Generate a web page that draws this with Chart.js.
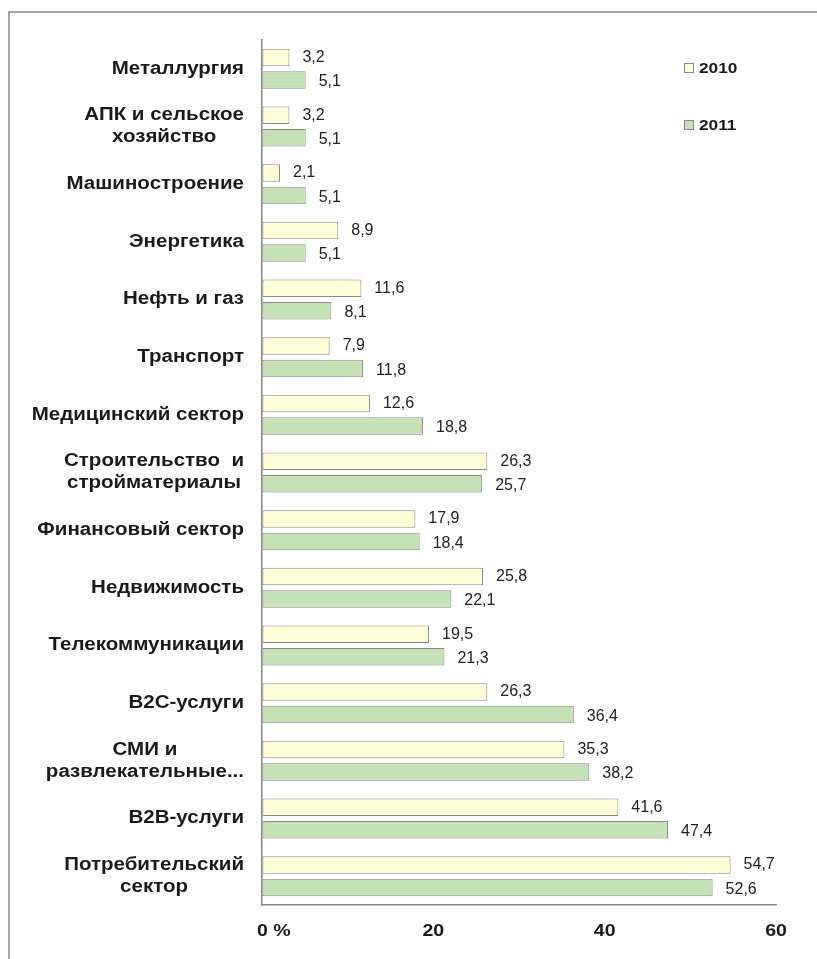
<!DOCTYPE html>
<html>
<head>
<meta charset="utf-8">
<script src="https://cdn.jsdelivr.net/npm/chart.js@4"></script>
<style>
html,body{margin:0;padding:0;background:#fff;}
#wrap{position:relative;width:817px;height:959px;}
canvas{display:block;}
</style>
</head>
<body>
<div id="wrap"><canvas id="c" width="817" height="959"></canvas></div>
<script>
const categories = [
  ["Металлургия"],
  ["АПК и сельское","хозяйство"],
  ["Машиностроение"],
  ["Энергетика"],
  ["Нефть и газ"],
  ["Транспорт"],
  ["Медицинский сектор"],
  ["Строительство  и","стройматериалы"],
  ["Финансовый сектор"],
  ["Недвижимость"],
  ["Телекоммуникации"],
  ["B2C-услуги"],
  ["СМИ и","развлекательные..."],
  ["B2B-услуги"],
  ["Потребительский","сектор"]
];
const values2010 = [3.2,3.2,2.1,8.9,11.6,7.9,12.6,26.3,17.9,25.8,19.5,26.3,35.3,41.6,54.7];
const values2011 = [5.1,5.1,5.1,5.1,8.1,11.8,18.8,25.7,18.4,22.1,21.3,36.4,38.2,47.4,52.6];
const seriesNames = ["2010","2011"];
const xTickLabels = {0:"0 %",20:"20",40:"40",60:"60"};

const FONT = "'Liberation Sans', Arial, sans-serif";
const COL2010 = "#FEFED8";
const COL2011 = "#C4E2B6";
const BORDER = "#8a8a8a";
const SX = 1.14;

function stretchedText(ctx, text, x, y, sx) {
  ctx.save();
  ctx.translate(x, y);
  ctx.scale(sx, 1);
  ctx.fillText(text, 0, 0);
  ctx.restore();
}

const decorPlugin = {
  id: 'decor',
  beforeDraw(chart) {
    const ctx = chart.ctx;
    ctx.save();
    ctx.fillStyle = '#fff';
    ctx.fillRect(0,0,chart.width,chart.height);
    ctx.strokeStyle = '#a6a6a6';
    ctx.lineWidth = 2;
    ctx.beginPath();
    ctx.moveTo(9, chart.height);
    ctx.lineTo(9, 12);
    ctx.lineTo(chart.width, 12);
    ctx.stroke();
    ctx.restore();
  },
  afterDraw(chart) {
    const ctx = chart.ctx;
    const ys = chart.scales.y;
    const xs = chart.scales.x;
    ctx.save();
    // category labels
    ctx.font = "bold 18px " + FONT;
    ctx.fillStyle = '#1a1a1a';
    ctx.textAlign = 'center';
    ctx.textBaseline = 'middle';
    const rightEdge = 244, lh = 22;
    chart.data.labels.forEach((lines, i) => {
      const yc = ys.getPixelForValue(i);
      const w = Math.max(...lines.map(l => ctx.measureText(l).width)) * SX;
      const cx = rightEdge - w/2;
      const y0 = yc - (lines.length-1)*lh/2;
      lines.forEach((l, k) => stretchedText(ctx, l, cx, y0 + k*lh, SX));
    });
    // x tick labels
    ctx.font = "bold 17px " + FONT;
    Object.keys(xTickLabels).forEach(k => {
      const v = Number(k);
      const t = xTickLabels[k];
      const w = ctx.measureText(t).width * 1.15;
      let x = xs.getPixelForValue(v);
      if (v === 0) x = x - 5 + w/2;
      stretchedText(ctx, t, x, xs.bottom - 28, 1.15);
    });
    // value labels
    ctx.font = "16px " + FONT;
    ctx.fillStyle = '#222';
    ctx.textAlign = 'left';
    chart.data.datasets.forEach((ds, di) => {
      const meta = chart.getDatasetMeta(di);
      meta.data.forEach((bar, i) => {
        const v = ds.data[i];
        ctx.fillText(v.toFixed(1).replace('.', ','), bar.x + 13, bar.y + (di === 0 ? 0 : 2));
      });
    });
    // legend
    ctx.font = "bold 15px " + FONT;
    const legY = [69, 126];
    chart.data.datasets.forEach((ds, di) => {
      const y = legY[di];
      ctx.fillStyle = ds.backgroundColor;
      ctx.fillRect(684.5, y - 5.5, 9, 9);
      ctx.strokeStyle = BORDER;
      ctx.lineWidth = 1;
      ctx.strokeRect(684.5, y - 5.5, 9, 9);
      ctx.fillStyle = '#1a1a1a';
      stretchedText(ctx, ds.label, 699, y, 1.15);
    });
    ctx.restore();
  }
};

new Chart(document.getElementById('c'), {
  type: 'bar',
  data: {
    labels: categories,
    datasets: [
      { label: seriesNames[0], data: values2010, backgroundColor: COL2010, borderColor: BORDER, borderWidth: 1, borderSkipped: false,
        categoryPercentage: 0.78, barPercentage: 0.78 },
      { label: seriesNames[1], data: values2011, backgroundColor: COL2011, borderColor: BORDER, borderWidth: 1, borderSkipped: false,
        categoryPercentage: 0.78, barPercentage: 0.78 }
    ]
  },
  options: {
    indexAxis: 'y',
    responsive: false,
    animation: false,
    devicePixelRatio: 1,
    layout: { padding: { left: 262, right: 41, top: 40, bottom: 0 } },
    plugins: { legend: { display: false }, tooltip: { enabled: false } },
    scales: {
      x: {
        min: 0, max: 60,
        afterFit(s) { s.height = 54; },
        grid: { display: true, color: 'rgba(0,0,0,0)', drawTicks: false },
        border: { display: true, color: '#868686', width: 1.5 },
        ticks: { stepSize: 20, display: false }
      },
      y: {
        afterFit(s) { s.width = 0; },
        grid: { display: true, color: 'rgba(0,0,0,0)', drawTicks: false },
        border: { display: true, color: '#868686', width: 1.5 },
        ticks: { display: false }
      }
    }
  },
  plugins: [decorPlugin]
});
</script>
</body>
</html>
